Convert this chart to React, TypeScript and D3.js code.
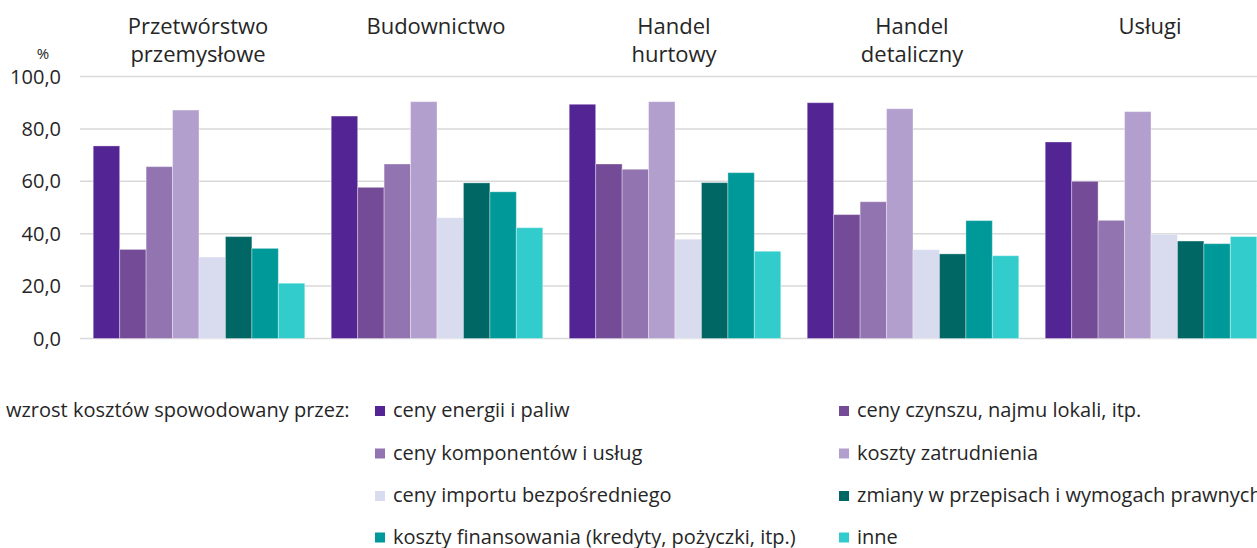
import React from "react";
import * as d3 from "d3";

const categories = ["Przetwórstwo przemysłowe", "Budownictwo", "Handel hurtowy", "Handel detaliczny", "Usługi"];
const categoryLines = [["Przetwórstwo", "przemysłowe"], ["Budownictwo"], ["Handel", "hurtowy"], ["Handel", "detaliczny"], ["Usługi"]];

const seriesNames = [
  "ceny energii i paliw",
  "ceny czynszu, najmu lokali, itp.",
  "ceny komponentów i usług",
  "koszty zatrudnienia",
  "ceny importu bezpośredniego",
  "zmiany w przepisach i wymogach prawnych",
  "koszty finansowania (kredyty, pożyczki, itp.)",
  "inne",
];

const energia = [73.5, 84.9, 89.4, 90.0, 75.0];
const czynsz = [34.0, 57.7, 66.6, 47.3, 60.0];
const komponenty = [65.6, 66.6, 64.6, 52.2, 45.1];
const zatrudnienie = [87.2, 90.4, 90.4, 87.7, 86.6];
const importu = [31.1, 46.1, 37.9, 33.9, 39.8];
const przepisy = [38.9, 59.4, 59.5, 32.3, 37.2];
const finansowanie = [34.4, 56.0, 63.3, 45.0, 36.2];
const inne = [21.1, 42.3, 33.3, 31.6, 38.9];

const seriesValues = [energia, czynsz, komponenty, zatrudnienie, importu, przepisy, finansowanie, inne];
const colors = ["#522494", "#744b97", "#9274b0", "#b39fcd", "#d9dbef", "#006764", "#009999", "#33cccc"];
const yTicks = [0, 20, 40, 60, 80, 100];
const legendTitle = "wzrost kosztów spowodowany przez:";

const FONT = "'Open Sans', sans-serif";
const TEXT = "#262626";

export default function App() {
  const W = 1257, H = 548;
  const x0 = d3.scaleBand<string>().domain(categories).range([80, 1270]).paddingInner(0).paddingOuter(0);
  const x1 = d3.scaleBand<string>().domain(seriesNames).range([0, x0.bandwidth()]).paddingInner(0).paddingOuter(0.5);
  const y = d3.scaleLinear().domain([0, 100]).range([338.5, 76.5]);
  const fmt = (v: number) => d3.format(".1f")(v).replace(".", ",");

  const legendRows = [417, 459.5, 502, 543.5];
  const legendCols = [375, 839];

  return (
    <svg width={W} height={H} style={{ position: "absolute", left: 0, top: 0, background: "#fff" }} fontFamily={FONT}>
      {yTicks.map((t) => (
        <g key={t}>
          <line x1={80} x2={1270} y1={y(t)} y2={y(t)} stroke="#d9d9d9" strokeWidth={1.5} />
          <text x={61} y={y(t) + 7} textAnchor="end" fontSize={20} fill={TEXT}>{fmt(t)}</text>
        </g>
      ))}
      <text x={43} y={59} textAnchor="middle" fontSize={15} fill={TEXT}>%</text>
      {categories.map((c, ci) => (
        <g key={c}>
          {categoryLines[ci].map((ln, li) => (
            <text key={li} x={(x0(c) as number) + x0.bandwidth() / 2 - 1} y={34 + li * 28} textAnchor="middle" fontSize={22} fill={TEXT}>{ln}</text>
          ))}
          {seriesNames.map((s, si) => {
            const v = seriesValues[si][ci];
            return (
              <rect key={s} x={(x0(c) as number) + (x1(s) as number)} y={y(v)} width={x1.bandwidth()} height={y(0) - y(v)}
                fill={colors[si]} stroke="#ffffff" strokeOpacity={0.35} strokeWidth={1} />
            );
          })}
        </g>
      ))}
      <text x={6} y={417} fontSize={20} fill={TEXT}>{legendTitle}</text>
      {seriesNames.map((s, si) => {
        const row = Math.floor(si / 2), col = si % 2;
        const lx = legendCols[col], ly = legendRows[row];
        return (
          <g key={s}>
            <rect x={lx} y={ly - 11} width={10} height={10} fill={colors[si]} />
            <text x={lx + 18} y={ly} fontSize={20} fill={TEXT}>{s}</text>
          </g>
        );
      })}
    </svg>
  );
}
